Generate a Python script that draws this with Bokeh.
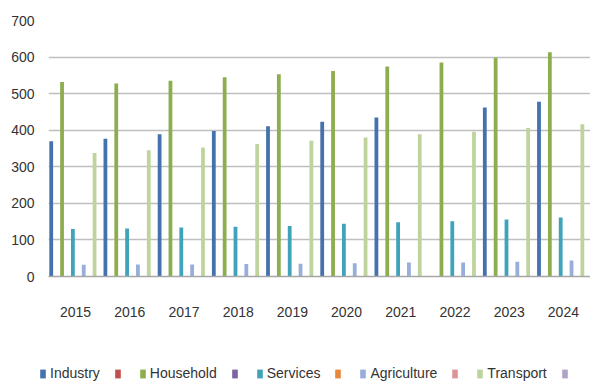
from bokeh.plotting import figure
from bokeh.layouts import column
from bokeh.models import ColumnDataSource, FactorRange, Legend, LegendItem, FixedTicker
from bokeh.transform import dodge
from bokeh.embed import file_html
from bokeh.resources import INLINE

years = ["2015", "2016", "2017", "2018", "2019", "2020", "2021", "2022", "2023", "2024"]
industry = [370, 377, 389, 398, 411, 423, 435, None, 462, 478]
household = [532, 528, 535, 545, 553, 562, 574, 585, 598, 613]
services = [130, 131, 134, 136, 138, 144, 148, 151, 156, 161]
agriculture = [32, 33, 33, 34, 35, 36, 38, 38, 40, 44]
transport = [338, 345, 353, 362, 371, 380, 389, 396, 406, 416]
empty = [0] * 10
y_ticks = [0, 100, 200, 300, 400, 500, 600, 700]

series_names = ["Industry", "", "Household", "", "Services", "", "Agriculture", "", "Transport", ""]
series_values = [industry, empty, household, empty, services, empty, agriculture, empty, transport, empty]
series_colors = ["#4472AE", "#C0504D", "#8DAE4E", "#7E62A1", "#3FA3BB",
                 "#E8873E", "#97AEDA", "#D99694", "#BFD49C", "#B3A2C7"]

FONT = "Liberation Sans"
FS = "14px"
TXT = "#333333"


def clean(vals):
    return [float("nan") if v is None else v for v in vals]


# main chart
p = figure(x_range=FactorRange(*years), y_range=(0, 700), width=590, height=340,
           output_backend="svg", toolbar_location=None,
           min_border_left=48, min_border_right=0, min_border_top=20, min_border_bottom=64)
p.outline_line_color = None
p.background_fill_color = "white"
p.border_fill_color = "white"

for i, (vals, col) in enumerate(zip(series_values, series_colors)):
    src = ColumnDataSource(data=dict(x=years, top=clean(vals)))
    off = -0.45 + i * 0.1
    p.vbar(x=dodge("x", off, range=p.x_range), top="top", bottom=0, width=0.07,
           source=src, fill_color=col, line_color=None)

p.yaxis.ticker = FixedTicker(ticks=y_ticks)
p.yaxis.axis_line_color = None
p.yaxis.major_tick_line_color = None
p.yaxis.minor_tick_line_color = None
p.yaxis.major_tick_out = 0
p.yaxis.major_label_standoff = 14
p.yaxis.major_label_text_font = FONT
p.yaxis.major_label_text_font_size = FS
p.yaxis.major_label_text_color = TXT

p.xaxis.axis_line_color = "#A6A6A6"
p.xaxis.axis_line_width = 1.5
p.xaxis.major_tick_line_color = None
p.xaxis.major_tick_out = 0
p.xaxis.major_label_standoff = 30
p.xaxis.major_label_text_font = FONT
p.xaxis.major_label_text_font_size = FS
p.xaxis.major_label_text_color = TXT

p.xgrid.grid_line_color = None
p.ygrid.grid_line_color = "#BFBFBF"
p.ygrid.grid_line_width = 1.5

# legend strip (bars of the same series, kept out of view by the y range)
lf = figure(width=590, height=41, x_range=FactorRange(*years), y_range=(5000, 5001),
            output_backend="svg", toolbar_location=None,
            x_axis_type=None, y_axis_type=None, frame_align=False,
            min_border_left=0, min_border_right=0, min_border_top=0, min_border_bottom=0)
lf.outline_line_color = None
lf.xgrid.grid_line_color = None
lf.ygrid.grid_line_color = None

items = []
for i, (name, vals, col) in enumerate(zip(series_names, series_values, series_colors)):
    src = ColumnDataSource(data=dict(x=years, top=clean(vals)))
    r = lf.vbar(x="x", top="top", bottom=0, width=0.07, source=src,
                fill_color=col, line_color=None)
    items.append(LegendItem(label=name, renderers=[r], index=0))

legend = Legend(items=items, orientation="horizontal", location=(39, 0),
                padding=0, margin=0, spacing=14, label_standoff=4,
                glyph_width=7, glyph_height=11, label_width=0, label_height=16,
                label_text_font=FONT, label_text_font_size=FS, label_text_color=TXT,
                border_line_color=None, background_fill_alpha=0)
lf.add_layout(legend, "center")

open("out.html", "w").write(file_html(column(p, lf), INLINE))
